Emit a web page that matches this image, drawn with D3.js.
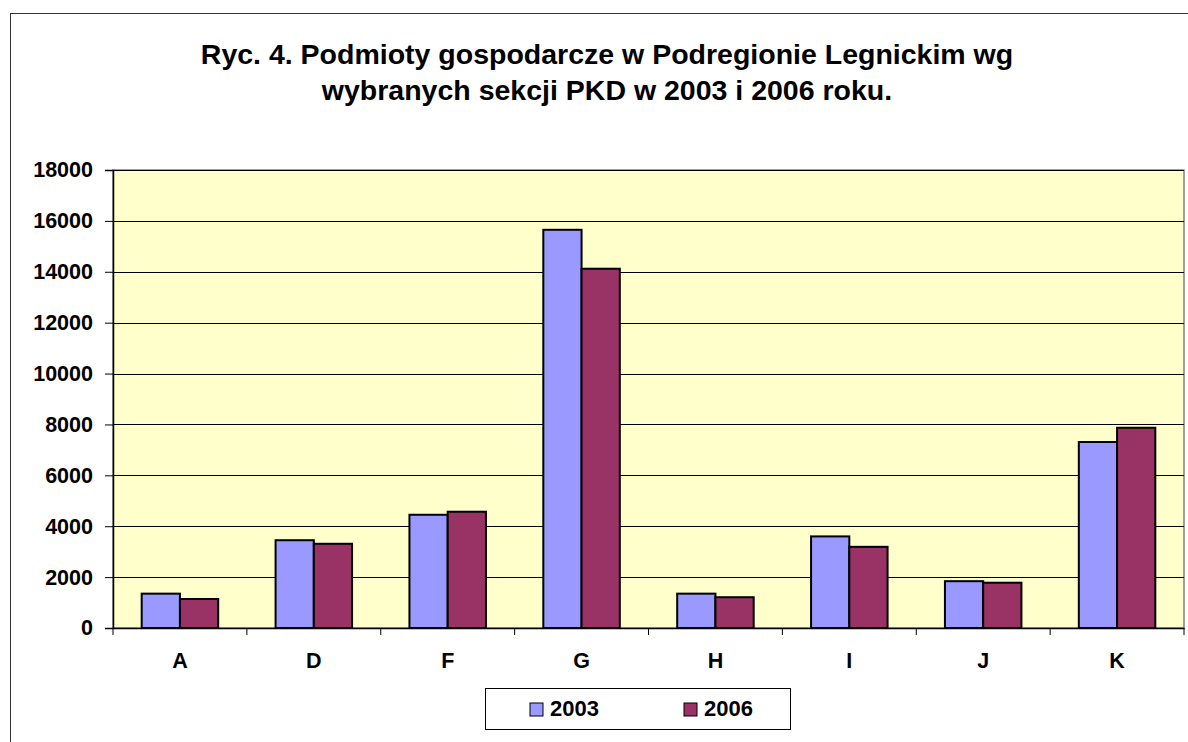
<!DOCTYPE html>
<html><head><meta charset="utf-8">
<script src="https://cdn.jsdelivr.net/npm/d3@7"></script>
<style>body{margin:0;background:#fff}svg{display:block;font-family:"Liberation Sans",Arial,sans-serif}</style>
</head><body>
<svg id="c" width="1188" height="742"></svg>
<script>
const categories = ["A","D","F","G","H","I","J","K"];
const seriesNames = ["2003","2006"];
const values2003 = [1350, 3450, 4450, 15650, 1350, 3600, 1840, 7310];
const values2006 = [1140, 3310, 4570, 14120, 1210, 3190, 1780, 7870];
const yTicks = [0,2000,4000,6000,8000,10000,12000,14000,16000,18000];
const colors = ["#9999FF","#993366"];
const titleLines = ["Ryc. 4. Podmioty gospodarcze w Podregionie Legnickim wg","wybranych sekcji PKD w 2003 i 2006 roku."];

const svg = d3.select("#c");
svg.append("rect").attr("x",10.5).attr("y",13.5).attr("width",1250).attr("height",800)
  .attr("fill","#fff").attr("stroke","#333").attr("stroke-width",1);

const L=113, R=1184, T=170, B=628;
const x = d3.scaleBand().domain(categories).range([L,R]).paddingInner(0).paddingOuter(0);
const inner = d3.scaleBand().domain(seriesNames).range([0,x.bandwidth()]).paddingInner(0).paddingOuter(0.75);
const y = d3.scaleLinear().domain([0,18000]).range([B,T]);

svg.append("rect").attr("x",L).attr("y",T).attr("width",R-L).attr("height",B-T)
  .attr("fill","#FFFFCC").attr("stroke","#808080").attr("stroke-width",1.5);

// gridlines
svg.append("g").selectAll("line").data(yTicks.filter(d=>d>0)).join("line")
  .attr("x1",L).attr("x2",R).attr("y1",d=>Math.round(y(d))+0.5).attr("y2",d=>Math.round(y(d))+0.5)
  .attr("stroke","#000").attr("stroke-width",1);

// bars
const data = categories.map((c,i)=>({c, v:[values2003[i],values2006[i]]}));
const g = svg.append("g");
data.forEach(d=>{
  d.v.forEach((v,j)=>{
    g.append("rect").attr("x",x(d.c)+inner(seriesNames[j])).attr("y",y(v))
      .attr("width",inner.bandwidth()).attr("height",B-y(v))
      .attr("fill",colors[j]).attr("stroke","#000").attr("stroke-width",2);
  });
});

// y axis
const ya = svg.append("g").attr("transform",`translate(${L},0)`)
  .call(d3.axisLeft(y).tickValues(yTicks).tickSize(8).tickPadding(12).tickFormat(d3.format("d")));
ya.select(".domain").attr("stroke","#000").attr("stroke-width",1.5);
ya.selectAll(".tick line").attr("stroke","#000");
ya.selectAll("text").attr("font-size",21.5).attr("font-weight","bold").attr("fill","#000")
  .attr("font-family","Liberation Sans, Arial, sans-serif");

// x axis
const xa = svg.append("g").attr("transform",`translate(0,${B})`)
  .call(d3.axisBottom(x).tickSize(0).tickPadding(26));
xa.select(".domain").attr("stroke","#000").attr("stroke-width",1.5);
xa.selectAll("text").attr("font-size",21.5).attr("font-weight","bold").attr("fill","#000")
  .attr("dy",null).attr("y",40)
  .attr("font-family","Liberation Sans, Arial, sans-serif");
const bounds = categories.map(c=>x(c)).concat([R]);
svg.append("g").selectAll("line").data(bounds).join("line")
  .attr("x1",d=>d).attr("x2",d=>d).attr("y1",B).attr("y2",B+7).attr("stroke","#000").attr("stroke-width",1);

// title
svg.append("g").selectAll("text").data(titleLines).join("text")
  .attr("x",607).attr("y",(d,i)=>64+i*36).attr("text-anchor","middle")
  .attr("font-size",28.5).attr("font-weight","bold").attr("fill","#000").text(d=>d);

// legend
const lg = svg.append("g");
lg.append("rect").attr("x",485.5).attr("y",688.5).attr("width",305).attr("height",41)
  .attr("fill","#fff").attr("stroke","#000").attr("stroke-width",1);
const legX = [530,684];
seriesNames.forEach((s,i)=>{
  lg.append("rect").attr("x",legX[i]).attr("y",703).attr("width",13).attr("height",13)
    .attr("fill",colors[i]).attr("stroke","#000").attr("stroke-width",1);
  lg.append("text").attr("x",legX[i]+20).attr("y",716).attr("font-size",22).attr("font-weight","bold")
    .attr("fill","#000").text(s);
});
</script>
</body></html>
